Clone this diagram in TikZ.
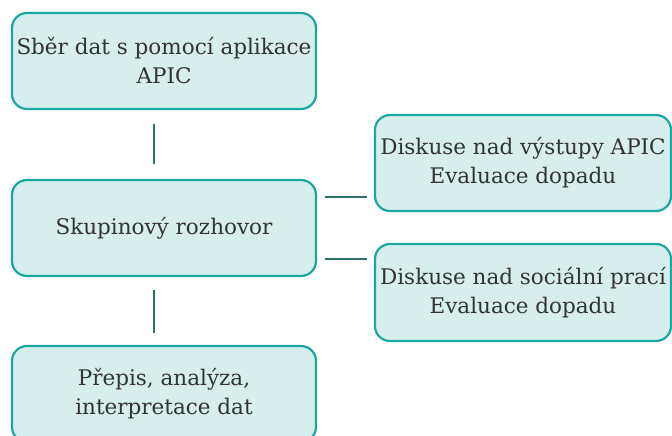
\documentclass[tikz,border=0pt]{standalone}
\usepackage{fontspec}
\setmainfont{DejaVu Serif}
\definecolor{boxline}{HTML}{1AA9A0}
\definecolor{boxfill}{HTML}{D6EEEC}
\definecolor{conn}{HTML}{2F6F6B}
\definecolor{txt}{HTML}{333333}
\tikzset{
  stepbox/.style={draw=boxline, fill=boxfill, line width=2.2pt, rounded corners=15pt,
    align=center, text=txt, font=\fontsize{21.5}{29}\selectfont, inner sep=0pt},
  link/.style={draw=conn, line width=2.2pt}
}
\begin{document}
\begin{tikzpicture}[x=1pt,y=-1pt]
\useasboundingbox (0,0) rectangle (672,436);
\node[stepbox, minimum width=304pt, minimum height=96pt] (a) at (164,61) {Sběr dat s pomocí aplikace\\APIC};
\node[stepbox, minimum width=304pt, minimum height=96pt] (b) at (164,228) {Skupinový rozhovor};
\node[stepbox, minimum width=304pt, minimum height=96pt] (c) at (164,394) {Přepis, analýza,\\interpretace dat};
\node[stepbox, minimum width=296pt, minimum height=96pt] (d) at (523,163) {Diskuse nad výstupy APIC\\Evaluace dopadu};
\node[stepbox, minimum width=296pt, minimum height=97pt] (e) at (523,292.5) {Diskuse nad sociální prací\\Evaluace dopadu};
\coordinate (a1) at (154,124);
\coordinate (a2) at (154,164);
\coordinate (b1) at (154,290);
\coordinate (b2) at (154,333);
\coordinate (d1) at (325,197);
\coordinate (d2) at (367,197);
\coordinate (e1) at (325,259);
\coordinate (e2) at (367,259);
\draw[link] (a1) -- (a2);
\draw[link] (b1) -- (b2);
\draw[link] (d1) -- (d2);
\draw[link] (e1) -- (e2);
\end{tikzpicture}
\end{document}
